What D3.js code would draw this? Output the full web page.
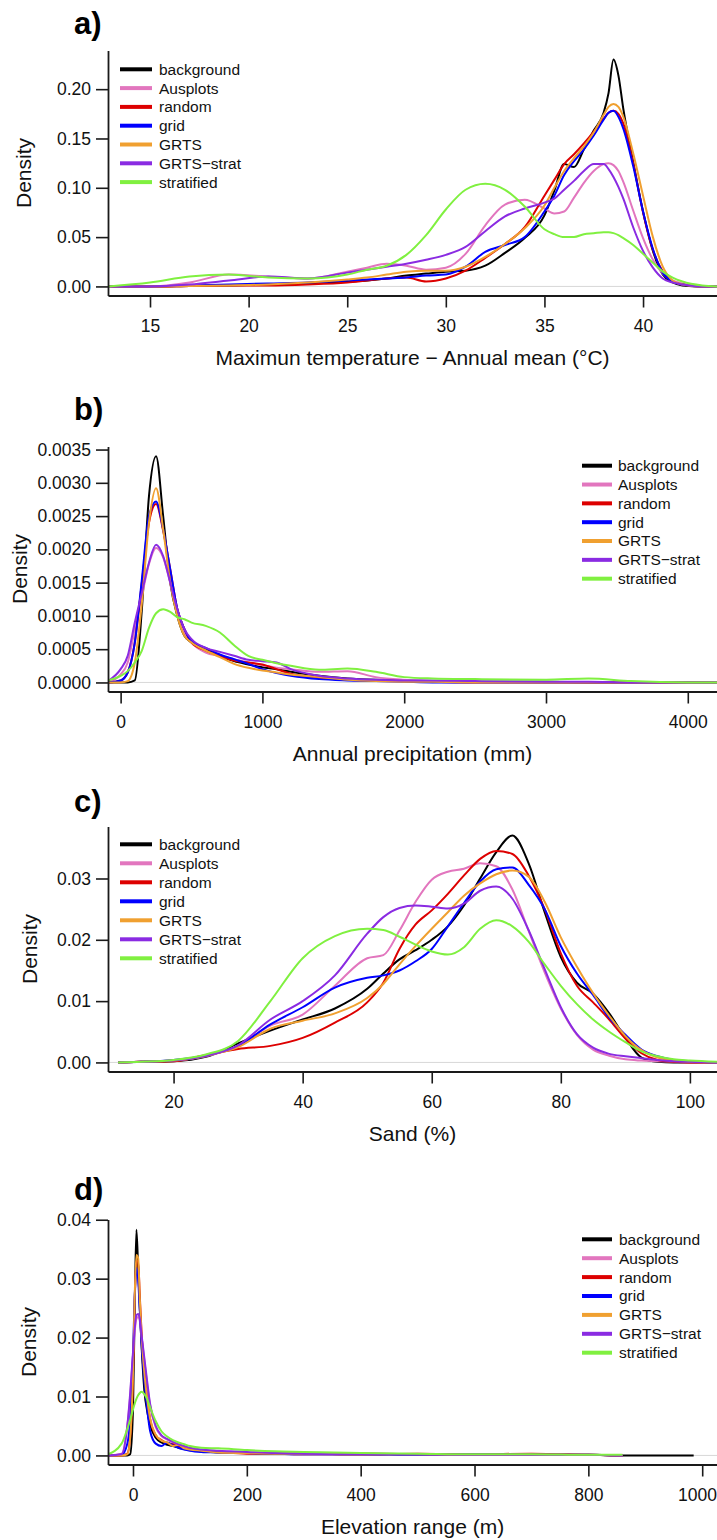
<!DOCTYPE html>
<html><head><meta charset="utf-8">
<script src="https://cdn.jsdelivr.net/npm/d3@7/dist/d3.min.js"></script>
<style>
html,body{margin:0;padding:0;background:#fff;}
svg{display:block;font-family:"Liberation Sans",Arial,Helvetica,sans-serif;}
</style></head>
<body><svg id="chart" width="717" height="1540"></svg>
<script>
// ---------- series ----------
const seriesNames = ["background","Ausplots","random","grid","GRTS","GRTS\u2212strat","stratified"];
const seriesColors = ["#000000","#E276BE","#DD0000","#0000FF","#F0A030","#8A2BE2","#80F040"];

// ---------- panel a: max temperature ----------
const tempX = [12.9,15,17,19,21,23,25,26,27,28,29,30,31,32,33,34,35,35.5,36,36.5,37,37.5,38,38.25,38.5,38.75,39,39.5,40,40.5,41,41.5,42,43,43.8];
const tempBackground = [0,0,0.0005,0.001,0.002,0.003,0.005,0.006,0.008,0.011,0.013,0.015,0.016,0.021,0.034,0.049,0.072,0.097,0.124,0.121,0.139,0.158,0.176,0.196,0.230,0.214,0.180,0.126,0.076,0.036,0.012,0.004,0.001,0,0];
const tempAusplots   = [0,0,0.004,0.012,0.010,0.008,0.015,0.019,0.023,0.021,0.017,0.019,0.033,0.062,0.083,0.088,0.079,0.074,0.076,0.090,0.105,0.117,0.124,0.125,0.123,0.117,0.106,0.077,0.049,0.027,0.013,0.006,0.003,0,0];
const tempRandom     = [0,0,0.0005,0.001,0.001,0.002,0.004,0.006,0.008,0.009,0.005,0.008,0.016,0.029,0.043,0.060,0.092,0.108,0.124,0.134,0.145,0.157,0.170,0.176,0.178,0.175,0.165,0.125,0.075,0.037,0.015,0.005,0.002,0,0];
const tempGrid       = [0,0,0.001,0.002,0.003,0.004,0.006,0.007,0.008,0.009,0.011,0.012,0.020,0.035,0.042,0.050,0.076,0.092,0.113,0.127,0.139,0.153,0.169,0.176,0.178,0.172,0.160,0.122,0.076,0.038,0.014,0.005,0.002,0,0];
const tempGRTS       = [0,0,0.0005,0.001,0.002,0.004,0.007,0.009,0.012,0.015,0.016,0.016,0.020,0.030,0.043,0.059,0.082,0.100,0.117,0.130,0.142,0.156,0.174,0.182,0.185,0.182,0.172,0.135,0.092,0.050,0.020,0.006,0.002,0,0];
const tempGRTSstrat  = [0,0,0.002,0.006,0.010,0.008,0.014,0.017,0.020,0.023,0.027,0.032,0.040,0.056,0.071,0.079,0.085,0.089,0.098,0.107,0.117,0.124,0.124,0.119,0.111,0.101,0.089,0.060,0.036,0.019,0.008,0.004,0.002,0,0];
const tempStratified = [0,0.004,0.010,0.012,0.009,0.008,0.012,0.017,0.021,0.032,0.052,0.078,0.098,0.104,0.098,0.081,0.058,0.053,0.050,0.050,0.053,0.054,0.055,0.055,0.054,0.052,0.049,0.042,0.033,0.024,0.015,0.009,0.005,0.001,0];
const tempXTicks = [15,20,25,30,35,40];
const tempYTicks = [0,0.05,0.10,0.15,0.20];

// ---------- panel b: annual precipitation ----------
const precX = [-89,0,50,100,150,200,250,300,350,400,450,500,600,700,800,900,1000,1100,1200,1400,1600,1800,2000,2200,2500,3000,3300,3600,4000,4206];
const precBackground = [0,0,0,0.00003,0.0011,0.0028,0.0034,0.0025,0.0015,0.001,0.0007,0.0006,0.0005,0.0004,0.00032,0.00027,0.00023,0.0002,0.00016,0.0001,0.00006,0.00004,0.00003,0.00002,0.00001,0.00001,0,0,0,0];
const precAusplots   = [0,0.00012,0.0003,0.0008,0.0013,0.00178,0.00202,0.00188,0.0015,0.0011,0.00075,0.0006,0.00045,0.0004,0.00035,0.0003,0.00026,0.00022,0.0002,0.00016,0.00017,0.00008,0.00004,0.00002,0.00001,0,0,0,0,0];
const precRandom     = [0,0.00003,0.00015,0.0006,0.0015,0.0024,0.00268,0.00228,0.0017,0.0011,0.0008,0.0006,0.00048,0.0004,0.00033,0.0003,0.00027,0.0002,0.00013,0.00007,0.00004,0.00003,0.00002,0.00001,0,0,0,0,0,0];
const precGrid       = [0,0.00003,0.00015,0.0006,0.00155,0.0025,0.00272,0.0023,0.0017,0.0011,0.0008,0.00062,0.00052,0.00042,0.00035,0.00028,0.0002,0.00014,0.0001,0.00005,0.00003,0.00002,0.00001,0,0,0,0,0,0,0];
const precGRTS       = [0,0,0.00002,0.0003,0.0012,0.0024,0.00292,0.0023,0.0015,0.001,0.0007,0.0006,0.00048,0.00038,0.00028,0.00022,0.00018,0.00015,0.00012,0.00008,0.00004,0.00002,0.00001,0.00001,0,0,0,0,0,0];
const precGRTSstrat  = [0.00002,0.0002,0.0004,0.0009,0.00135,0.0018,0.00207,0.0019,0.0015,0.0011,0.0008,0.00065,0.00052,0.00046,0.0004,0.00034,0.00032,0.0003,0.0002,0.0001,0.00006,0.00004,0.00003,0.00003,0.00002,0.00001,0.00001,0,0,0];
const precStratified = [0.00003,0.0001,0.00017,0.0003,0.00048,0.00082,0.00104,0.0011,0.00106,0.00098,0.00095,0.0009,0.00085,0.00075,0.00056,0.0004,0.00034,0.00029,0.00025,0.00019,0.00021,0.00016,0.00008,0.00006,0.00005,0.00004,0.00006,0.00002,0,0];
const precXTicks = [0,1000,2000,3000,4000];
const precYTicks = [0,0.0005,0.0010,0.0015,0.0020,0.0025,0.0030,0.0035];

// ---------- panel c: sand ----------
const sandX = [11.4,15,20,25,30,35,40,45,50,52.5,55,57.5,60,62.5,65,67.5,70,72.5,75,77.5,80,82.5,85,87.5,90,92.5,95,97.5,100,104.2];
const sandBackground = [0,0.0001,0.0002,0.0009,0.0031,0.0052,0.0070,0.0088,0.0120,0.0145,0.0168,0.0183,0.0200,0.0222,0.0256,0.0300,0.0343,0.0370,0.0325,0.0245,0.0172,0.0130,0.0112,0.0080,0.0040,0.0008,0.0001,0,0,0];
const sandAusplots   = [0,0.0001,0.0003,0.0010,0.0027,0.0060,0.0078,0.0125,0.0170,0.0175,0.0215,0.0262,0.0298,0.0311,0.0316,0.0325,0.0320,0.0282,0.0215,0.0147,0.0088,0.0045,0.0021,0.0011,0.0005,0.0003,0.0002,0.0001,0,0];
const sandRandom     = [0,0.0001,0.0002,0.0012,0.0022,0.0027,0.0040,0.0065,0.0098,0.0130,0.0185,0.0225,0.0248,0.0275,0.0305,0.0332,0.0345,0.0340,0.0305,0.0250,0.0178,0.0125,0.0098,0.0070,0.0039,0.0015,0.0004,0.0001,0,0];
const sandGrid       = [0,0.0001,0.0004,0.0011,0.0027,0.0062,0.0090,0.0122,0.0138,0.0142,0.0150,0.0165,0.0185,0.0222,0.0260,0.0295,0.0315,0.0318,0.0290,0.0250,0.0190,0.0145,0.0110,0.0073,0.0045,0.0021,0.0010,0.0004,0.0002,0];
const sandGRTS       = [0,0.0001,0.0003,0.0011,0.0025,0.0055,0.0068,0.0080,0.0105,0.0128,0.0160,0.0190,0.0218,0.0245,0.0272,0.0292,0.0307,0.0313,0.0303,0.0262,0.0204,0.0156,0.0113,0.0076,0.0043,0.0020,0.0008,0.0003,0.0001,0];
const sandGRTSstrat  = [0,0.0001,0.0003,0.0011,0.0028,0.0070,0.0100,0.0142,0.0210,0.0237,0.0252,0.0256,0.0254,0.0251,0.0259,0.0280,0.0287,0.0267,0.0216,0.0152,0.0090,0.0046,0.0024,0.0014,0.0010,0.0007,0.0004,0.0002,0.0001,0];
const sandStratified = [0,0.0001,0.0004,0.0013,0.0035,0.0100,0.0170,0.0206,0.0218,0.0216,0.0205,0.0192,0.0181,0.0176,0.0188,0.0218,0.0232,0.0222,0.0197,0.0160,0.0125,0.0095,0.0070,0.0050,0.0033,0.0018,0.0010,0.0005,0.0003,0.0001];
const sandXTicks = [20,40,60,80,100];
const sandYTicks = [0,0.01,0.02,0.03];

// ---------- panel d: elevation range ----------
const elevX = [-44,-20,-10,-5,0,3,6,9,12,15,20,25,30,40,50,60,70,80,90,100,120,150,200,250,300,400,500,600,700,800,860,900,985];
const elevBackground = [0,0,0,0.0002,0.0078,0.025,0.0383,0.032,0.025,0.0188,0.011,0.0075,0.0052,0.003,0.0022,0.0018,0.0016,0.0013,0.0011,0.0009,0.0007,0.0005,0.0004,0.0003,0.0003,0.0002,0.0002,0.0001,0.0001,0.0001,0,0,0];
const elevAusplots   = [0,0.0003,0.005,0.01,0.017,0.021,0.0232,0.0235,0.0228,0.0202,0.016,0.012,0.0085,0.0048,0.0033,0.0027,0.0022,0.0018,0.0015,0.0012,0.0009,0.0007,0.0005,0.0004,0.0004,0.0004,0.0002,0.0002,0.0002,0.0001,0,null,null];
const elevRandom     = [0,0,0.0003,0.003,0.0135,0.026,0.033,0.033,0.027,0.021,0.0142,0.0095,0.0062,0.0034,0.0026,0.0021,0.0019,0.0015,0.0012,0.001,0.0008,0.0006,0.0003,0.0003,0.0002,0.0002,0.0003,0.0002,0.0003,0.0001,0,null,null];
const elevGrid       = [0,0.0001,0.002,0.006,0.017,0.027,0.0318,0.030,0.0245,0.019,0.0125,0.0078,0.0042,0.002,0.0016,0.0022,0.0017,0.0013,0.001,0.0008,0.0006,0.0005,0.0004,0.0003,0.0002,0.0002,0.0001,0.0002,0.0001,0.0001,0,null,null];
const elevGRTS       = [0,0,0.0002,0.003,0.014,0.027,0.034,0.0335,0.0265,0.0205,0.014,0.0095,0.0063,0.0035,0.0025,0.0022,0.0016,0.0018,0.0012,0.001,0.0008,0.0005,0.0004,0.0003,0.0003,0.0002,0.0002,0.0001,0.0001,0.0001,0,null,null];
const elevGRTSstrat  = [0,0.0002,0.005,0.0105,0.0175,0.0215,0.0238,0.024,0.0232,0.0205,0.0165,0.0125,0.0088,0.005,0.0034,0.0028,0.0023,0.0019,0.0016,0.0013,0.001,0.0008,0.0006,0.0004,0.0003,0.0002,0.0002,0.0001,0.0001,0.0001,0,null,null];
const elevStratified = [0.0002,0.002,0.0045,0.006,0.0078,0.0088,0.0096,0.0102,0.0106,0.0108,0.0104,0.0095,0.0082,0.0058,0.0041,0.0032,0.0026,0.0022,0.0019,0.0016,0.0013,0.0012,0.0009,0.0007,0.0006,0.0004,0.0003,0.0002,0.0002,0.0001,0.0001,null,null];
const elevXTicks = [0,200,400,600,800,1000];
const elevYTicks = [0,0.01,0.02,0.03,0.04];

// ---------- layout (positions only) ----------
const LEFT = 108, RIGHT = 717;
const panels = [
  {letter:"a)", letterY:34, top:50.5, bottom:295.5, xDomain:[12.87,43.75], yDomain:[-0.0092,0.2392],
   xs:tempX, ys:[tempBackground,tempAusplots,tempRandom,tempGrid,tempGRTS,tempGRTSstrat,tempStratified],
   xTicks:tempXTicks, yTicks:tempYTicks, yFmt:".2f", xTitle:"Maximun temperature \u2212 Annual mean (\u00B0C)",
   densX:31, leg:{x1:120,x2:152,tx:159,y0:69.3,dy:18.8}},
  {letter:"b)", letterY:420, top:446.5, bottom:691.5, xDomain:[-89,4206], yDomain:[-0.000136,0.003546],
   xs:precX, ys:[precBackground,precAusplots,precRandom,precGrid,precGRTS,precGRTSstrat,precStratified],
   xTicks:precXTicks, yTicks:precYTicks, yFmt:".4f", xTitle:"Annual precipitation (mm)",
   densX:27, leg:{x1:582,x2:612,tx:618,y0:465.7,dy:18.83}},
  {letter:"c)", letterY:812, top:826.5, bottom:1071.5, xDomain:[9.84,104.2], yDomain:[-0.00148,0.03848],
   xs:sandX, ys:[sandBackground,sandAusplots,sandRandom,sandGrid,sandGRTS,sandGRTSstrat,sandStratified],
   xTicks:sandXTicks, yTicks:sandYTicks, yFmt:".2f", xTitle:"Sand (%)",
   densX:37, leg:{x1:120,x2:152,tx:159,y0:844.3,dy:19}},
  {letter:"d)", letterY:1200, top:1219.5, bottom:1464.5, xDomain:[-43.9,1026], yDomain:[-0.00154,0.04004],
   xs:elevX, ys:[elevBackground,elevAusplots,elevRandom,elevGrid,elevGRTS,elevGRTSstrat,elevStratified],
   xTicks:elevXTicks, yTicks:elevYTicks, yFmt:".2f", xTitle:"Elevation range (m)",
   densX:36, leg:{x1:582,x2:612,tx:619,y0:1239.3,dy:18.9}}
];

const svg = d3.select("#chart");
const AX = "#1a1a1a";

panels.forEach((p, pi) => {
  const x = d3.scaleLinear().domain(p.xDomain).range([LEFT, RIGHT]);
  const y = d3.scaleLinear().domain(p.yDomain).range([p.bottom, p.top]);
  const g = svg.append("g");

  const clipId = "clip" + pi;
  svg.append("clipPath").attr("id", clipId).append("rect")
    .attr("x", LEFT).attr("y", p.top).attr("width", RIGHT - LEFT).attr("height", p.bottom - p.top);

  // zero line
  g.append("line").attr("x1", LEFT).attr("x2", RIGHT).attr("y1", y(0)).attr("y2", y(0))
    .attr("stroke", "#d8d8d8").attr("stroke-width", 1);

  // curves
  const line = d3.line().defined(d => d[1] != null)
    .x(d => x(d[0])).y(d => y(d[1])).curve(d3.curveMonotoneX);
  const cg = g.append("g").attr("clip-path", `url(#${clipId})`);
  p.ys.forEach((vals, si) => {
    const pts = p.xs.map((xv, i) => [xv, vals[i]]);
    cg.append("path").attr("d", line(pts)).attr("fill", "none")
      .attr("stroke", seriesColors[si]).attr("stroke-width", 2)
      .attr("stroke-linejoin", "round");
  });

  // axes
  const yAxis = d3.axisLeft(y).tickValues(p.yTicks).tickFormat(d3.format(p.yFmt))
    .tickSize(12).tickSizeOuter(0).tickPadding(5);
  const ya = g.append("g").attr("transform", `translate(${LEFT},0)`).call(yAxis);
  const xAxis = d3.axisBottom(x).tickValues(p.xTicks).tickFormat(d3.format("d"))
    .tickSize(12).tickSizeOuter(0).tickPadding(12);
  const xa = g.append("g").attr("transform", `translate(0,${p.bottom})`).call(xAxis);
  [ya, xa].forEach(a => {
    a.select(".domain").attr("stroke", AX).attr("stroke-width", 1.8);
    a.selectAll(".tick line").attr("stroke", AX).attr("stroke-width", 1.6);
    a.selectAll(".tick text").attr("fill", "#111").style("font-size", "17.5px")
      .style("font-family", '"Liberation Sans",Arial,sans-serif');
  });
  // keep the last x label inside the page edge
  xa.selectAll(".tick").each(function(d) {
    const t = d3.select(this).select("text");
    const w = t.node().getComputedTextLength();
    const over = x(d) + w / 2 - (RIGHT - 0.5);
    if (over > 0) t.attr("dx", -over);
  });

  // titles
  g.append("text").attr("x", (LEFT + RIGHT) / 2).attr("y", p.bottom + 69)
    .attr("text-anchor", "middle").style("font-size", "21px").attr("fill", "#111").text(p.xTitle);
  g.append("text").attr("transform", `translate(${p.densX},${(p.top + p.bottom) / 2}) rotate(-90)`)
    .attr("text-anchor", "middle").style("font-size", "21px").attr("fill", "#111").text("Density");
  g.append("text").attr("x", 74).attr("y", p.letterY).style("font-size", "31px")
    .style("font-weight", "bold").attr("fill", "#000").text(p.letter);

  // legend
  const lg = g.append("g");
  seriesNames.forEach((n, si) => {
    const yy = p.leg.y0 + si * p.leg.dy;
    lg.append("line").attr("x1", p.leg.x1).attr("x2", p.leg.x2).attr("y1", yy).attr("y2", yy)
      .attr("stroke", seriesColors[si]).attr("stroke-width", 4);
    lg.append("text").attr("x", p.leg.tx).attr("y", yy).attr("dy", "0.35em")
      .style("font-size", "15.5px").attr("fill", "#111").text(n);
  });
});
</script></body></html>
